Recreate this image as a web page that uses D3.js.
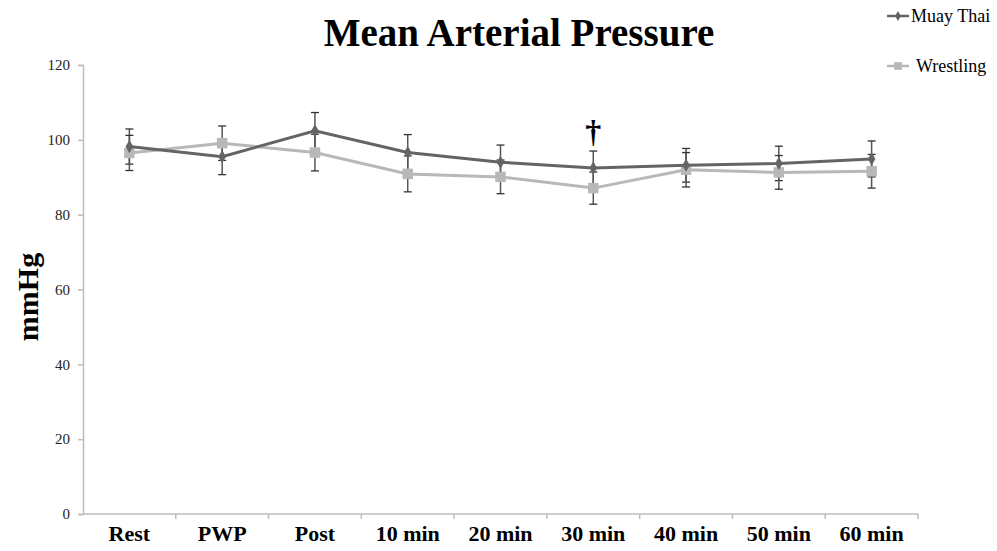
<!DOCTYPE html>
<html>
<head>
<meta charset="utf-8">
<script src="https://cdn.jsdelivr.net/npm/d3@7"></script>
<style>
  body { margin: 0; background: #fff; }
  svg { display: block; }
</style>
</head>
<body>
<div id="chart"></div>
<script>
const categories = ["Rest", "PWP", "Post", "10 min", "20 min", "30 min", "40 min", "50 min", "60 min"];
const muayThai = [98.2, 95.5, 102.4, 96.6, 94.0, 92.5, 93.2, 93.7, 94.9];
const muayThaiErr = [4.7, 4.8, 4.9, 4.8, 4.6, 4.5, 4.5, 4.6, 4.8];
const wrestling = [96.5, 99.1, 96.6, 90.9, 90.1, 87.1, 92.0, 91.3, 91.6];
const wrestlingErr = [4.7, 4.6, 4.9, 4.8, 4.5, 4.3, 4.6, 4.5, 4.5];
const yTicks = [0, 20, 40, 60, 80, 100, 120];

const width = 997, height = 551;
const margin = {top: 65, bottom: 37, left: 83, right: 79};
const innerWidth = width - margin.left - margin.right;
const innerHeight = height - margin.top - margin.bottom;

const svg = d3.select("#chart").append("svg")
    .attr("width", width)
    .attr("height", height);

const serif = "Liberation Serif";

svg.append("text")
    .text("Mean Arterial Pressure")
    .attr("x", 519)
    .attr("y", 46)
    .attr("text-anchor", "middle")
    .attr("font-family", serif)
    .attr("font-weight", "bold")
    .attr("font-size", 39)
    .attr("fill", "#000");

svg.append("text")
    .text("mmHg")
    .attr("transform", "translate(38, 297) rotate(-90)")
    .attr("text-anchor", "middle")
    .attr("font-family", serif)
    .attr("font-weight", "bold")
    .attr("font-size", 30)
    .attr("fill", "#000");

const innerChart = svg.append("g")
    .attr("transform", `translate(${margin.left}, ${margin.top})`);

const xScale = d3.scaleBand()
    .domain(categories)
    .range([0, innerWidth]);

const yScale = d3.scaleLinear()
    .domain([0, 120])
    .range([innerHeight, 0]);

const xCenter = d => xScale(d) + xScale.bandwidth() / 2;

// y axis
const yAxis = innerChart.append("g")
    .call(d3.axisLeft(yScale).tickValues(yTicks).tickSize(5).tickPadding(8));
yAxis.select(".domain").attr("stroke", "#bdbdbd").attr("stroke-width", 1.5);
yAxis.selectAll(".tick line").attr("stroke", "#bdbdbd").attr("stroke-width", 1.5);
yAxis.selectAll(".tick text")
    .attr("font-family", serif)
    .attr("font-size", 15)
    .attr("fill", "#222");

// x axis with ticks on band boundaries
const xAxisG = innerChart.append("g")
    .attr("transform", `translate(0, ${innerHeight})`);
xAxisG.append("line")
    .attr("x1", 0).attr("x2", innerWidth)
    .attr("stroke", "#bdbdbd").attr("stroke-width", 1.5);
xAxisG.selectAll(".xtick")
    .data(categories)
    .join("line")
    .attr("x1", d => xScale(d) + xScale.bandwidth())
    .attr("x2", d => xScale(d) + xScale.bandwidth())
    .attr("y1", 0).attr("y2", 5)
    .attr("stroke", "#bdbdbd").attr("stroke-width", 1.5);
xAxisG.selectAll(".xlabel")
    .data(categories)
    .join("text")
    .text(d => d)
    .attr("x", d => xCenter(d))
    .attr("y", 27)
    .attr("text-anchor", "middle")
    .attr("font-family", serif)
    .attr("font-weight", "bold")
    .attr("font-size", 22)
    .attr("fill", "#000");

const series = [
    {name: "Muay Thai", values: muayThai, err: muayThaiErr, color: "#646464", marker: "diamond"},
    {name: "Wrestling", values: wrestling, err: wrestlingErr, color: "#b8b8b8", marker: "square"}
];

const lineGenerator = d3.line()
    .x((d, i) => xCenter(categories[i]))
    .y(d => yScale(d));

// error bars
series.forEach(s => {
    const g = innerChart.append("g");
    s.values.forEach((v, i) => {
        const x = xCenter(categories[i]);
        const y1 = yScale(v + s.err[i]);
        const y2 = yScale(v - s.err[i]);
        g.append("line")
            .attr("x1", x).attr("x2", x)
            .attr("y1", y1).attr("y2", y2)
            .attr("stroke", "#555").attr("stroke-width", 1.5);
        [y1, y2].forEach(y => {
            g.append("line")
                .attr("x1", x - 4).attr("x2", x + 4)
                .attr("y1", y).attr("y2", y)
                .attr("stroke", "#333").attr("stroke-width", 1.3);
        });
    });
});

// lines and markers (wrestling underneath)
[series[1], series[0]].forEach(s => {
    innerChart.append("path")
        .attr("d", lineGenerator(s.values))
        .attr("fill", "none")
        .attr("stroke", s.color)
        .attr("stroke-width", 3);
    innerChart.append("g")
        .selectAll("path")
        .data(s.values)
        .join("path")
        .attr("transform", (d, i) => `translate(${xCenter(categories[i])}, ${yScale(d)})`)
        .attr("d", d3.symbol().type(s.marker === "square" ? d3.symbolSquare : d3.symbolDiamond)
            .size(s.marker === "square" ? 110 : 50))
        .attr("fill", s.color);
});

// significance dagger at 30 min
innerChart.append("text")
    .text("\u2020")
    .attr("x", xCenter("30 min"))
    .attr("y", yScale(muayThai[5] + muayThaiErr[5]) - 9)
    .attr("text-anchor", "middle")
    .attr("font-family", serif)
    .attr("font-weight", "bold")
    .attr("font-size", 32)
    .attr("fill", "#000");

// legend
const legend = svg.append("g").attr("transform", "translate(887, 0)");
series.forEach((s, i) => {
    const y = i === 0 ? 16 : 66;
    const lg = legend.append("g").attr("transform", `translate(0, ${y})`);
    lg.append("line")
        .attr("x1", 0).attr("x2", 22)
        .attr("stroke", s.color).attr("stroke-width", 2.5);
    lg.append("path")
        .attr("transform", "translate(11, 0)")
        .attr("d", d3.symbol().type(s.marker === "square" ? d3.symbolSquare : d3.symbolDiamond)
            .size(s.marker === "square" ? 60 : 30))
        .attr("fill", s.color);
    lg.append("text")
        .text(s.name)
        .attr("x", i === 0 ? 24 : 29)
        .attr("y", 6)
        .attr("font-family", serif)
        .attr("font-size", 18)
        .attr("fill", "#000");
});
</script>
</body>
</html>
